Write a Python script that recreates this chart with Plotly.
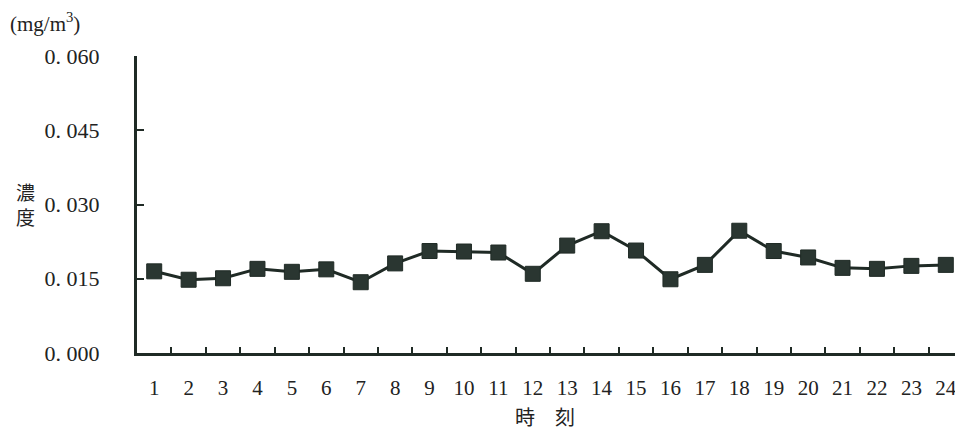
import plotly.graph_objects as go

hours = [str(i) for i in range(1, 25)]
conc = [0.0165, 0.0148, 0.0151, 0.0170, 0.0164, 0.0169, 0.0143, 0.0181,
        0.0206, 0.0205, 0.0203, 0.0160, 0.0217, 0.0246, 0.0207, 0.0149,
        0.0178, 0.0247, 0.0206, 0.0193, 0.0172, 0.0170, 0.0176, 0.0178]
ytick_vals = [0.0, 0.015, 0.030, 0.045, 0.060]
ytick_text = ["0. 000", "0. 015", "0. 030", "0. 045", "0. 060"]

DARK = "#1f2a25"
FONT = "Liberation Serif"
OFF = 8  # page body margin
W, H = 963 - OFF, 433 - OFF
l, r, t, b = 137 - OFF, 0, 56 - OFF, 80
pw, ph = W - l - r, H - t - b

fig = go.Figure()
fig.add_trace(go.Scatter(
    x=hours, y=conc, mode="lines+markers",
    line=dict(color=DARK, width=3),
    marker=dict(symbol="square", size=15, color="#2a3631", line=dict(color=DARK, width=1)),
    showlegend=False, cliponaxis=False,
))

fig.update_layout(
    width=W, height=H,
    margin=dict(l=l, r=r, t=t, b=b, autoexpand=False),
    paper_bgcolor="white", plot_bgcolor="white",
    font=dict(family=FONT, size=22, color="#222"),
    xaxis=dict(
        type="category", range=[-0.5, 23.5], showline=True, linecolor=DARK, linewidth=3,
        ticks="inside", tickson="boundaries", ticklen=6, tickwidth=2, tickcolor=DARK,
        showgrid=False, zeroline=False, ticklabelstandoff=14, tickangle=0,
        automargin=False,
        tickfont=dict(family=FONT, size=21, color="#222"),
    ),
    yaxis=dict(
        range=[0, 0.06], tickvals=ytick_vals, ticktext=ytick_text,
        showline=True, linecolor=DARK, linewidth=3,
        ticks="inside", ticklen=7, tickwidth=2, tickcolor=DARK,
        showgrid=False, zeroline=False, ticklabelstandoff=30,
        automargin=False,
        tickfont=dict(family=FONT, size=22, color="#222"),
    ),
)

ann_specs = [
    ("(mg/m<sup>3</sup>)", 8, 22, "left", FONT, 21),
    ("濃<br>度", 25, 204, "center", "Noto Sans CJK JP", 19),
    ("時　刻", 545, 416, "center", "Noto Sans CJK JP", 20),
]
for text, px, py, xa, fam, sz in ann_specs:
    fig.add_annotation(
        text=text, x=(px - OFF - l) / pw, y=(H - b - (py - OFF)) / ph,
        xref="paper", yref="paper",
        showarrow=False, xanchor=xa, yanchor="middle",
        font=dict(family=fam, size=sz, color="#222"),
    )

fig.write_html("out.html")
